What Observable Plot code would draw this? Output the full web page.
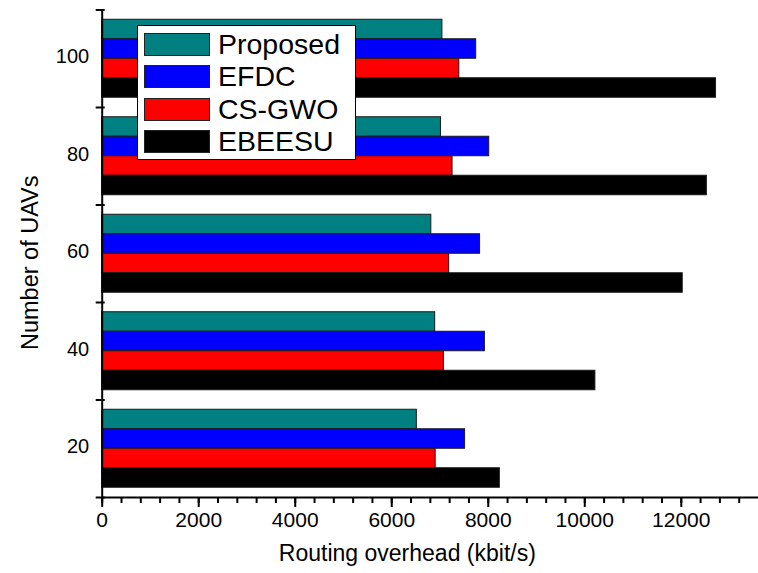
<!DOCTYPE html>
<html>
<head>
<meta charset="utf-8">
<script src="https://cdn.jsdelivr.net/npm/d3@7"></script>
<script src="https://cdn.jsdelivr.net/npm/@observablehq/plot@0.6"></script>
<style>
  html, body { margin: 0; padding: 0; background: #fff; }
  #chart { position: relative; width: 758px; height: 573px; font-family: "Liberation Sans", Arial, sans-serif; }
  #legend { position: absolute; left: 137px; top: 25px; width: 217px; height: 133px; background: #fff; border: 1.5px solid #000; }
  .row { position: absolute; left: 6px; height: 23px; display: flex; align-items: center; }
  .sw { width: 64px; height: 21px; border: 1px solid #222; margin-right: 8px; }
  .lab { font-size: 28.5px; color: #000; line-height: 23px; }
</style>
</head>
<body>
<div id="chart"></div>
<script>
// Number of UAVs (group order from bottom to top)
const uavCounts = [20, 40, 60, 80, 100];
const seriesNames = ["Proposed", "EFDC", "CS-GWO", "EBEESU"];
const seriesColors = ["#008080", "#0000ff", "#ff0000", "#000000"];

// Routing overhead (kbit/s) for each method, one value per UAV count
const proposed = [6520, 6900, 6820, 7020, 7050];
const efdc     = [7520, 7930, 7830, 8020, 7750];
const csgwo    = [6910, 7080, 7190, 7260, 7400];
const ebeesu   = [8240, 10220, 12030, 12530, 12720];

const majorTicks = d3.range(0, 12001, 2000);
const minorTicks = d3.range(0, 13600, 400);

const seriesValues = [proposed, efdc, csgwo, ebeesu];

// Each UAV group spans one unit on a linear y scale; its four bars share 80% of it.
const barUnit = 0.2;
const rows = [];
uavCounts.forEach((n, i) => {
  seriesNames.forEach((s, k) => {
    const top = i + 0.9 - k * barUnit;
    rows.push({uav: n, series: s, value: seriesValues[k][i], y1: top - barUnit, y2: top});
  });
});

const groupEdges = d3.range(0, uavCounts.length + 1);
const groupCenters = uavCounts.map((_, i) => i + 0.5);

const plot = Plot.plot({
  width: 758,
  height: 573,
  marginLeft: 101.7,
  marginRight: 0,
  marginTop: 9.5,
  marginBottom: 76,
  style: {fontFamily: "Liberation Sans, Arial, sans-serif", background: "#fff", color: "#000"},
  x: {domain: [0, 13600]},
  y: {domain: [0, uavCounts.length]},
  color: {domain: seriesNames, range: seriesColors},
  marks: [
    Plot.rectX(rows, {x: "value", y1: "y1", y2: "y2", fill: "series", stroke: "#1a1a1a", strokeWidth: 1}),
    // axis lines
    Plot.ruleX([0], {stroke: "#000", strokeWidth: 2}),
    Plot.ruleY([0], {stroke: "#000", strokeWidth: 2}),
    // y separators between groups (straddling the axis)
    Plot.axisY({ticks: groupEdges, tickSize: 6, tickFormat: () => "", strokeWidth: 2, label: null}),
    Plot.ruleY(groupEdges, {x1: 0, x2: 62, stroke: "#000", strokeWidth: 2}),
    // y group labels
    Plot.axisY({ticks: groupCenters, tickSize: 0, tickPadding: 13, fontSize: 20,
      tickFormat: (d) => String(uavCounts[Math.round(d - 0.5)]), dy: -2, label: null}),
    // x ticks
    Plot.axisX({ticks: minorTicks, tickSize: 6, tickFormat: () => "", strokeWidth: 2, label: null}),
    Plot.axisX({ticks: majorTicks, tickSize: 10, tickPadding: 5, fontSize: 21, strokeWidth: 2, tickFormat: (d) => String(d), label: null}),
    // axis titles
    Plot.text(["Routing overhead (kbit/s)"], {frameAnchor: "bottom", textAnchor: "middle", dx: -23, dy: 63, lineAnchor: "bottom", fontSize: 23, fill: "#000"}),
    Plot.text(["Number of UAVs"], {frameAnchor: "left", textAnchor: "middle", dx: -72, dy: 9, rotate: -90, fontSize: 23.5, fill: "#000"})
  ]
});

const chart = document.getElementById("chart");
chart.appendChild(plot);

// legend box drawn over the upper-left of the plotting area
const legend = document.createElement("div");
legend.id = "legend";
seriesNames.forEach((s, k) => {
  const row = document.createElement("div");
  row.className = "row";
  row.style.top = (7 + k * 32.4) + "px";
  const sw = document.createElement("div");
  sw.className = "sw";
  sw.style.background = seriesColors[k];
  const lab = document.createElement("span");
  lab.className = "lab";
  lab.textContent = s;
  row.appendChild(sw);
  row.appendChild(lab);
  legend.appendChild(row);
});
chart.appendChild(legend);
</script>
</body>
</html>
